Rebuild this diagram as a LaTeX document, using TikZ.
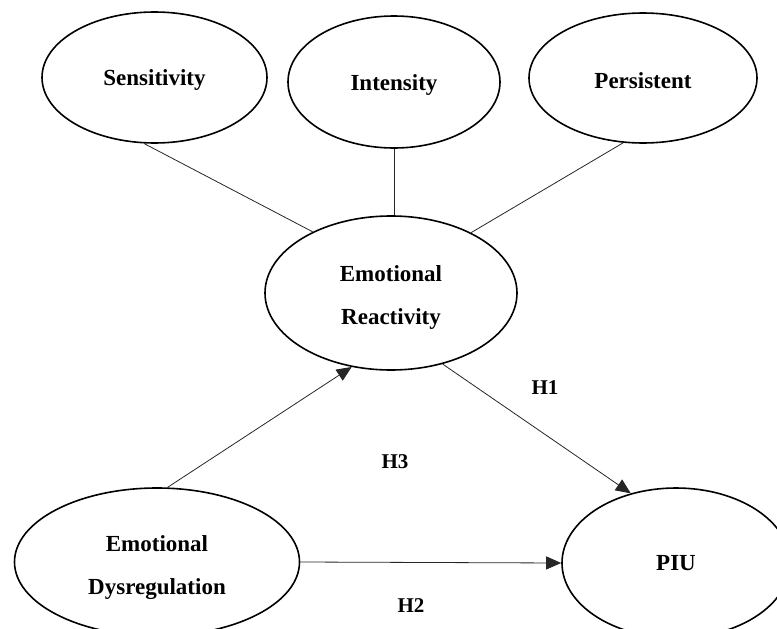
\documentclass[tikz,border=0pt]{standalone}
\usepackage{fontspec}
\setmainfont{Liberation Serif}
\usetikzlibrary{shapes.geometric,arrows.meta}
\begin{document}
\begin{tikzpicture}[x=1pt,y=-1pt,
  construct/.style={draw,ellipse,line width=1.6pt,inner sep=0pt},
  ctext/.style={align=center,font=\bfseries\fontsize{23}{43}\selectfont},
  link/.style={draw,line width=0.8pt,black!85},
  hyp/.style={link,-{Triangle[length=15pt,width=13pt]}},
  hlabel/.style={font=\bfseries\fontsize{21}{24}\selectfont}]
\useasboundingbox (0,0) rectangle (777,629);
\node[construct,minimum width=225pt,minimum height=131pt,
  label={[ctext,yshift=-3pt]center:Sensitivity}] (sens) at (154.5,77.5) {};
\node[construct,minimum width=212pt,minimum height=132pt,
  label={[ctext,yshift=-3pt]center:Intensity}] (inten) at (394,82) {};
\node[construct,minimum width=228pt,minimum height=130pt,
  label={[ctext,yshift=-3pt]center:Persistent}] (pers) at (643,78) {};
\node[construct,minimum width=252pt,minimum height=154pt,
  label={[ctext,yshift=-4pt]center:Emotional\\Reactivity}] (react) at (391,293) {};
\node[construct,minimum width=285pt,minimum height=148pt,
  label={[ctext,yshift=-6pt]center:Emotional\\Dysregulation}] (dysreg) at (157,562) {};
\node[construct,minimum width=228pt,minimum height=150pt,
  label={[ctext,yshift=0pt]center:PIU}] (piu) at (676,563) {};
\draw[link] (sens.-99.8) -- (react.142.4);
\draw[link] (inten.south) -- (inten.south |- react.north);
\draw[link] (pers.-107.7) -- (react.37);
\draw[hyp] (dysreg.82.3) -- (react.-118.7);
\draw[hyp] (react.-54.3) -- (piu.123.7);
\draw[hyp] (dysreg.east) -- (piu.west);
\node[hlabel] (h1) at (545,388) {H1};
\node[hlabel] (h3) at (395,462) {H3};
\node[hlabel] (h2) at (411,606) {H2};
\end{tikzpicture}
\end{document}
